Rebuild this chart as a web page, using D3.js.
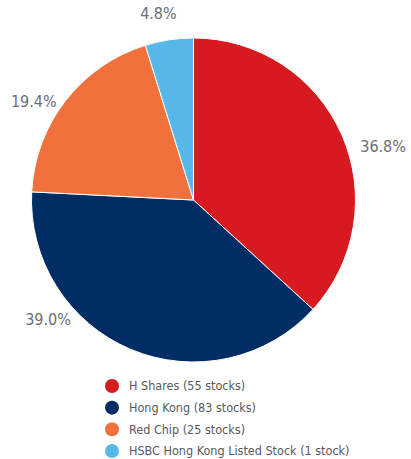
<!DOCTYPE html>
<html>
<head>
<meta charset="utf-8">
<script src="https://cdn.jsdelivr.net/npm/d3@7"></script>
<style>
  body { margin: 0; background: #fff; }
  text { font-family: "DejaVu Sans Condensed", "DejaVu Sans", sans-serif; font-stretch: condensed; }
</style>
</head>
<body>
<svg id="chart" width="411" height="459"></svg>
<script>
// data
var categories = ["H Shares (55 stocks)", "Hong Kong (83 stocks)", "Red Chip (25 stocks)", "HSBC Hong Kong Listed Stock (1 stock)"];
var shares = [36.8, 39.0, 19.4, 4.8];
var colors = ["#d71920", "#002d64", "#f0713b", "#55b8e8"];

// label tweaks: angle (degrees) and radius
var labelNudge = [8, 28, -6, -2];
var labelRadius = [197, 188, 188, 190];

var svg = d3.select("#chart"),
  cx = 193.5, cy = 200, r = 162;

var g = svg.append("g").attr("transform", "translate(" + cx + "," + cy + ")");

var pie = d3.pie().sort(null).value(function (d) { return d; });
var arc = d3.arc().innerRadius(0).outerRadius(r);
var arcs = pie(shares);

g.selectAll("path")
  .data(arcs)
  .enter().append("path")
  .attr("d", arc)
  .attr("fill", function (d, i) { return colors[i]; })
  .attr("stroke", "#fff")
  .attr("stroke-width", 1);

function labelPos(d, i) {
  var a = (d.startAngle + d.endAngle) / 2 + labelNudge[i] * Math.PI / 180;
  return [Math.sin(a) * labelRadius[i], -Math.cos(a) * labelRadius[i]];
}

// percentage labels
g.selectAll("text.pct")
  .data(arcs)
  .enter().append("text")
  .attr("class", "pct")
  .attr("x", function (d, i) { return labelPos(d, i)[0]; })
  .attr("y", function (d, i) { return labelPos(d, i)[1]; })
  .attr("dy", "0.35em")
  .attr("text-anchor", "middle")
  .attr("font-size", 16)
  .attr("fill", "#6d6e71")
  .text(function (d) { return d.data.toFixed(1) + "%"; });

// legend
var legY = d3.scalePoint().domain(categories).range([386, 451]);

var leg = svg.selectAll("g.leg")
  .data(categories)
  .enter().append("g")
  .attr("class", "leg")
  .attr("transform", function (d) { return "translate(112," + legY(d) + ")"; });

leg.append("circle")
  .attr("r", 7)
  .attr("fill", function (d, i) { return colors[i]; });

leg.append("text")
  .attr("x", 17)
  .attr("dy", "0.35em")
  .attr("font-size", 12.5)
  .attr("fill", "#58595b")
  .text(function (d) { return d; });
</script>
</body>
</html>
